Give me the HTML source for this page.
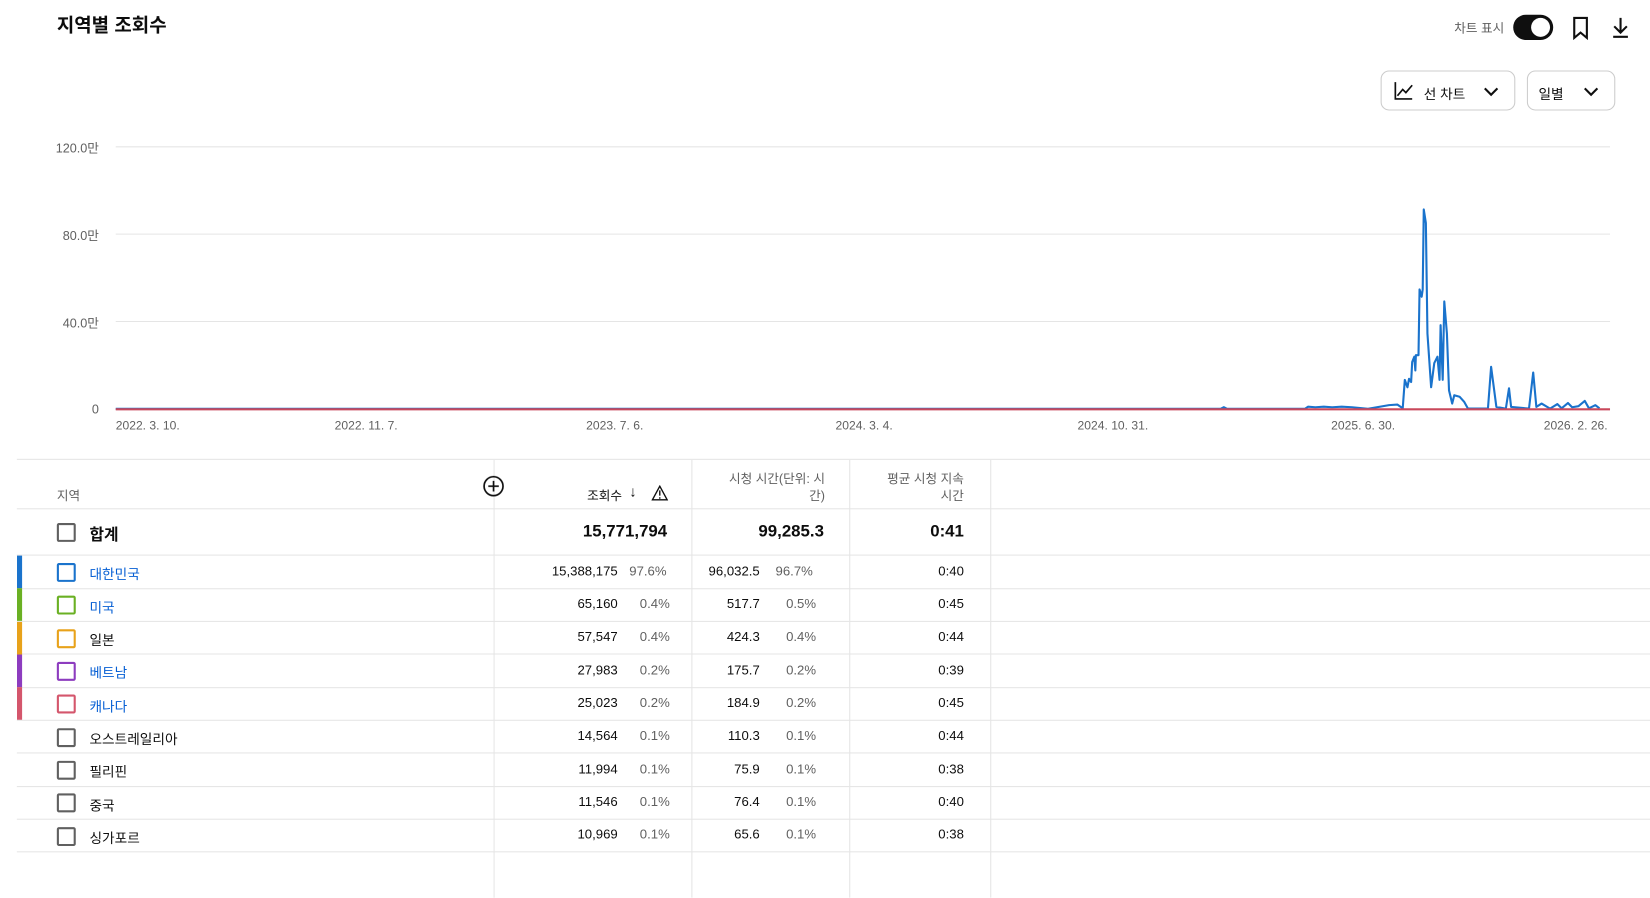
<!DOCTYPE html>
<html><head><meta charset="utf-8"><style>
body{margin:0;width:1650px;height:853px;overflow:hidden;background:#fff;font-family:"Liberation Sans","Noto Sans CJK KR",sans-serif;color:#0d0d0d}
#w{position:absolute;left:0;top:0;width:1568px;height:811px;transform:scale(1.0523);transform-origin:0 0}
.a{position:absolute}
.t{font-size:12px;color:#606060}
.hl{position:absolute;left:16px;width:1552px;height:1px;background:#e5e5e5}
.vl{position:absolute;width:1px;background:#e5e5e5;top:437px;height:416px}
.cb{position:absolute;left:54px;width:14px;height:14px;border:2px solid #606060;border-radius:2px}
.n{position:absolute;font-size:12.5px;text-align:right}
.p{position:absolute;font-size:12.5px;color:#606060}
.bar{position:absolute;left:16px;width:5px;height:31px}
</style></head><body><div id="w">
<div class="a" style="left:54px;top:10px;font-size:18px;font-weight:bold">지역별 조회수</div>
<div class="a t" style="left:1382px;top:18px">차트 표시</div>
<div class="a" style="left:1438px;top:14px;width:38px;height:24px;border-radius:12px;background:#0f0f0f"><div class="a" style="right:3px;top:3px;width:18px;height:18px;border-radius:9px;background:#fff"></div></div>
<svg class="a" style="left:1490px;top:14px" width="24" height="24"><path d="M6 3h12v19l-6-5-6 5z" fill="none" stroke="#0f0f0f" stroke-width="2"/></svg>
<svg class="a" style="left:1528px;top:14px" width="24" height="24"><path d="M12 3v14M6 11l6 6 6-6M5 21h14" fill="none" stroke="#0f0f0f" stroke-width="2"/></svg>
<div class="a" style="left:1312px;top:67px;width:126px;height:36px;border:1px solid #ccc;border-radius:8px"></div>
<svg class="a" style="left:1323px;top:75px" width="22" height="22"><path d="M3 3v16h16M5 16l5-6 3 3 6-7" fill="none" stroke="#0f0f0f" stroke-width="1.6"/></svg>
<div class="a" style="left:1353px;top:79px;font-size:13px">선 차트</div>
<svg class="a" style="left:1408px;top:78px" width="18" height="18"><path d="M3 6l6 6 6-6" fill="none" stroke="#0f0f0f" stroke-width="2"/></svg>
<div class="a" style="left:1451px;top:67px;width:82px;height:36px;border:1px solid #ccc;border-radius:8px"></div>
<div class="a" style="left:1462px;top:79px;font-size:13px">일별</div>
<svg class="a" style="left:1503px;top:78px" width="18" height="18"><path d="M3 6l6 6 6-6" fill="none" stroke="#0f0f0f" stroke-width="2"/></svg>

<div class="a t" style="left:40px;top:132px;width:54px;text-align:right">120.0만</div>
<div class="a t" style="left:40px;top:215px;width:54px;text-align:right">80.0만</div>
<div class="a t" style="left:40px;top:298px;width:54px;text-align:right">40.0만</div>
<div class="a t" style="left:40px;top:382px;width:54px;text-align:right">0</div>
<svg class="a" style="left:0;top:0" width="1568" height="430">
<g stroke="#e5e5e5" stroke-width="1"><line x1="110" x2="1530" y1="139.5" y2="139.5"/><line x1="110" x2="1530" y1="222.5" y2="222.5"/><line x1="110" x2="1530" y1="305.5" y2="305.5"/></g>
<polyline fill="none" stroke="#1a73cc" stroke-width="2" stroke-linejoin="round" points="110,388.5 1160,388.5 1163,387 1166,388.5 1240,388.5 1243,386.5 1250,387 1258,386.5 1266,387 1275,386.5 1285,387 1300,388.5 1320,385 1328,384.5 1333,388 1335,361 1337.5,368 1339,360 1341,363 1342,344 1344,339 1345,352 1345.5,337.5 1348,337.5 1349,275 1351,282 1352,275 1353,199 1355,212 1356.5,317 1360,368 1363,345 1366,339 1368,361 1369,309 1371,361 1372.5,286.5 1375,317 1377,371 1380,383.5 1382,375.6 1387,377 1391.5,382 1395,388.3 1414,388.3 1417,348.6 1422,386.7 1431,388.3 1434,369 1436,386.7 1453,388.3 1457,354 1460,386.7 1465,383.5 1473,388.3 1480,384 1484,388 1490,383 1494,387 1500,386 1506,381 1510,388 1516,385 1520,388"/>
<line x1="110" x2="1530" y1="389" y2="389" stroke="#c9485b" stroke-width="2"/>
</svg>
<div class="a t" style="left:110px;top:399px;font-size:11.5px">2022. 3. 10.</div>
<div class="a t" style="left:318px;top:399px;font-size:11.5px">2022. 11. 7.</div>
<div class="a t" style="left:557px;top:399px;font-size:11.5px">2023. 7. 6.</div>
<div class="a t" style="left:794px;top:399px;font-size:11.5px">2024. 3. 4.</div>
<div class="a t" style="left:1024px;top:399px;font-size:11.5px">2024. 10. 31.</div>
<div class="a t" style="left:1265px;top:399px;font-size:11.5px">2025. 6. 30.</div>
<div class="a t" style="left:1467px;top:399px;font-size:11.5px">2026. 2. 26.</div>

<div class="hl" style="top:436px"></div>
<div class="hl" style="top:483px"></div>
<div class="hl" style="top:527px"></div>
<div class="hl" style="top:559px"></div>
<div class="hl" style="top:590px"></div>
<div class="hl" style="top:621px"></div>
<div class="hl" style="top:653px"></div>
<div class="hl" style="top:684px"></div>
<div class="hl" style="top:715px"></div>
<div class="hl" style="top:747px"></div>
<div class="hl" style="top:778px"></div>
<div class="hl" style="top:809px"></div>
<div class="vl" style="left:469px"></div><div class="vl" style="left:657px"></div><div class="vl" style="left:807px"></div><div class="vl" style="left:941px"></div>

<div class="a t" style="left:54px;top:462px">지역</div>
<svg class="a" style="left:458px;top:451px" width="22" height="22"><circle cx="11" cy="11" r="9" fill="none" stroke="#0f0f0f" stroke-width="1.6"/><path d="M11 6v10M6 11h10" stroke="#0f0f0f" stroke-width="1.6"/></svg>
<div class="a" style="left:558px;top:462px;font-size:12px">조회수</div>
<div class="a" style="left:598px;top:459px;font-size:14px">↓</div>
<svg class="a" style="left:619px;top:461px" width="16" height="15"><path d="M8 1L15 14H1z" fill="none" stroke="#0f0f0f" stroke-width="1.3"/><path d="M8 5v5M8 11.5v1.5" stroke="#0f0f0f" stroke-width="1.3"/></svg>
<div class="a t" style="left:660px;top:447px;width:124px;text-align:right;line-height:16px">시청 시간(단위: 시<br>간)</div>
<div class="a t" style="left:810px;top:447px;width:106px;text-align:right;line-height:16px">평균 시청 지속<br>시간</div>

<div class="cb" style="top:497px"></div>
<div class="a" style="left:85px;top:497px;font-size:15px;font-weight:bold">합계</div>
<div class="n" style="right:934px;top:497px;font-size:16px;font-weight:bold">15,771,794</div>
<div class="n" style="right:785px;top:497px;font-size:16px;font-weight:bold">99,285.3</div>
<div class="n" style="right:652px;top:497px;font-size:16px;font-weight:bold">0:41</div>

<div class="bar" style="top:528px;background:#1a73cc"></div>
<div class="bar" style="top:559px;background:#6ab023"></div>
<div class="bar" style="top:591px;background:#e8a21a"></div>
<div class="bar" style="top:622px;background:#8d3cbf"></div>
<div class="bar" style="top:653px;background:#d4566c"></div>

<div class="cb" style="top:535px;border-color:#1a73cc"></div><div class="a" style="left:85px;top:535px;font-size:13px;color:#065fd4">대한민국</div>
<div class="n" style="right:981px;top:536px">15,388,175</div><div class="p" style="left:598px;top:536px">97.6%</div>
<div class="n" style="right:846px;top:536px">96,032.5</div><div class="p" style="left:737px;top:536px">96.7%</div>
<div class="n" style="right:652px;top:536px">0:40</div>

<div class="cb" style="top:566px;border-color:#6ab023"></div><div class="a" style="left:85px;top:567px;font-size:13px;color:#065fd4">미국</div>
<div class="n" style="right:981px;top:567px">65,160</div><div class="p" style="left:608px;top:567px">0.4%</div>
<div class="n" style="right:846px;top:567px">517.7</div><div class="p" style="left:747px;top:567px">0.5%</div>
<div class="n" style="right:652px;top:567px">0:45</div>

<div class="cb" style="top:598px;border-color:#e8a21a"></div><div class="a" style="left:85px;top:598px;font-size:13px">일본</div>
<div class="n" style="right:981px;top:598px">57,547</div><div class="p" style="left:608px;top:598px">0.4%</div>
<div class="n" style="right:846px;top:598px">424.3</div><div class="p" style="left:747px;top:598px">0.4%</div>
<div class="n" style="right:652px;top:598px">0:44</div>

<div class="cb" style="top:629px;border-color:#8d3cbf"></div><div class="a" style="left:85px;top:629px;font-size:13px;color:#065fd4">베트남</div>
<div class="n" style="right:981px;top:630px">27,983</div><div class="p" style="left:608px;top:630px">0.2%</div>
<div class="n" style="right:846px;top:630px">175.7</div><div class="p" style="left:747px;top:630px">0.2%</div>
<div class="n" style="right:652px;top:630px">0:39</div>

<div class="cb" style="top:660px;border-color:#d4566c"></div><div class="a" style="left:85px;top:661px;font-size:13px;color:#065fd4">캐나다</div>
<div class="n" style="right:981px;top:661px">25,023</div><div class="p" style="left:608px;top:661px">0.2%</div>
<div class="n" style="right:846px;top:661px">184.9</div><div class="p" style="left:747px;top:661px">0.2%</div>
<div class="n" style="right:652px;top:661px">0:45</div>

<div class="cb" style="top:692px"></div><div class="a" style="left:85px;top:692px;font-size:13px">오스트레일리아</div>
<div class="n" style="right:981px;top:692px">14,564</div><div class="p" style="left:608px;top:692px">0.1%</div>
<div class="n" style="right:846px;top:692px">110.3</div><div class="p" style="left:747px;top:692px">0.1%</div>
<div class="n" style="right:652px;top:692px">0:44</div>

<div class="cb" style="top:723px"></div><div class="a" style="left:85px;top:723px;font-size:13px">필리핀</div>
<div class="n" style="right:981px;top:724px">11,994</div><div class="p" style="left:608px;top:724px">0.1%</div>
<div class="n" style="right:846px;top:724px">75.9</div><div class="p" style="left:747px;top:724px">0.1%</div>
<div class="n" style="right:652px;top:724px">0:38</div>

<div class="cb" style="top:754px"></div><div class="a" style="left:85px;top:755px;font-size:13px">중국</div>
<div class="n" style="right:981px;top:755px">11,546</div><div class="p" style="left:608px;top:755px">0.1%</div>
<div class="n" style="right:846px;top:755px">76.4</div><div class="p" style="left:747px;top:755px">0.1%</div>
<div class="n" style="right:652px;top:755px">0:40</div>

<div class="cb" style="top:786px"></div><div class="a" style="left:85px;top:786px;font-size:13px">싱가포르</div>
<div class="n" style="right:981px;top:786px">10,969</div><div class="p" style="left:608px;top:786px">0.1%</div>
<div class="n" style="right:846px;top:786px">65.6</div><div class="p" style="left:747px;top:786px">0.1%</div>
<div class="n" style="right:652px;top:786px">0:38</div>
</div></body></html>
